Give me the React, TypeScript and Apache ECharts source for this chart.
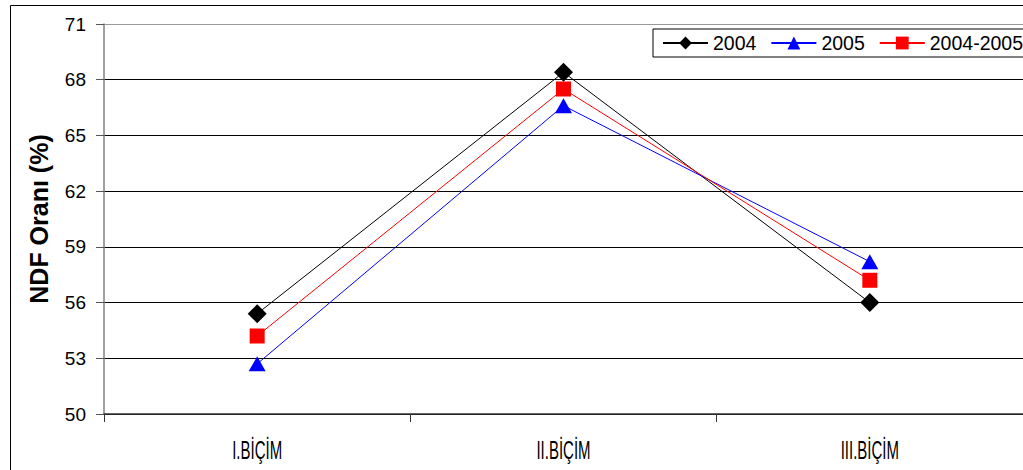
import React, { useEffect, useRef } from "react";
import * as echarts from "echarts";

const categories = ["I.BİÇİM", "II.BİÇİM", "III.BİÇİM"];
const series2004 = [55.4, 68.4, 56.0];
const series2005 = [52.7, 66.6, 58.2];
const series2004_2005 = [54.2, 67.5, 57.2];
const yMin = 50;
const yMax = 71;
const yInterval = 3;

export default function App() {
  const ref = useRef<HTMLDivElement>(null);
  useEffect(() => {
    if (!ref.current) return;
    const chart = echarts.init(ref.current, undefined, { renderer: "svg" });
    const font = "Liberation Sans, Arial, sans-serif";
    const frame = {
      id: "frame",
      type: "rect",
      shape: { x: 10.5, y: 5.5, width: 1100, height: 600 },
      style: { fill: "none", stroke: "#000", lineWidth: 1 },
      silent: true,
      z: -1,
    };
    chart.setOption({
      animation: false,
      backgroundColor: "#ffffff",
      textStyle: { fontFamily: font },
      graphic: [frame],
      legend: {
        left: 653,
        top: 29,
        width: 420,
        orient: "horizontal",
        padding: [4, 8, 4, 9],
        borderColor: "#000",
        borderWidth: 1,
        backgroundColor: "#fff",
        itemWidth: 45,
        itemHeight: 16,
        itemGap: 14,
        textStyle: { fontSize: 19.5, color: "#000", fontFamily: font },
        data: ["2004", "2005", "2004-2005"],
      },
      grid: { left: 104, top: 24, width: 923, height: 390, containLabel: false },
      xAxis: {
        type: "category",
        data: categories,
        boundaryGap: true,
        axisLine: { lineStyle: { color: "#333", width: 1.5 } },
        axisTick: { show: true, length: 8, lineStyle: { color: "#333" } },
        axisLabel: { show: false },
        splitLine: { show: false },
      },
      yAxis: {
        type: "value",
        min: yMin,
        max: yMax,
        interval: yInterval,
        name: "NDF Oranı (%)",
        nameLocation: "middle",
        nameGap: 53,
        nameTextStyle: { fontSize: 25, fontWeight: "bold", color: "#000", fontFamily: font },
        axisLine: { show: true, lineStyle: { color: "#808080", width: 1.5 } },
        axisTick: { show: true, length: 8, lineStyle: { color: "#555" } },
        axisLabel: { fontSize: 19, color: "#000", margin: 18, fontFamily: font },
        splitLine: {
          show: true,
          lineStyle: {
            color: ["#000", "#000", "#000", "#000", "#000", "#000", "#000", "#999"],
            width: 1,
          },
        },
      },
      series: [
        {
          name: "2004",
          type: "line",
          data: series2004,
          symbol: "diamond",
          symbolSize: 19,
          color: "#000000",
          lineStyle: { width: 1, color: "#000" },
          itemStyle: { color: "#000" },
        },
        {
          name: "2005",
          type: "line",
          data: series2005,
          symbol: "triangle",
          symbolSize: [17, 15],
          color: "#0000ff",
          lineStyle: { width: 1, color: "#0000ff" },
          itemStyle: { color: "#0000ff" },
        },
        {
          name: "2004-2005",
          type: "line",
          data: series2004_2005,
          symbol: "rect",
          symbolSize: 15,
          color: "#ff0000",
          lineStyle: { width: 1, color: "#ff0000" },
          itemStyle: { color: "#ff0000" },
        },
      ],
    });
    const labelY = chart.convertToPixel({ yAxisIndex: 0 }, yMin) + 36;
    const labels = categories.map((c, i) => {
      const x = chart.convertToPixel({ xAxisIndex: 0 }, c) as number;
      return {
        id: "xl" + i,
        type: "text",
        x,
        y: labelY,
        scaleX: 0.6,
        style: {
          text: c,
          fontSize: 25,
          fontFamily: font,
          fill: "#000",
          align: "center",
          verticalAlign: "middle",
        },
        silent: true,
      };
    });
    chart.setOption({ graphic: [frame, ...labels] });
    return () => chart.dispose();
  }, []);
  return (
    <div
      ref={ref}
      style={{ position: "absolute", left: 0, top: 0, width: 1023, height: 470 }}
    />
  );
}
